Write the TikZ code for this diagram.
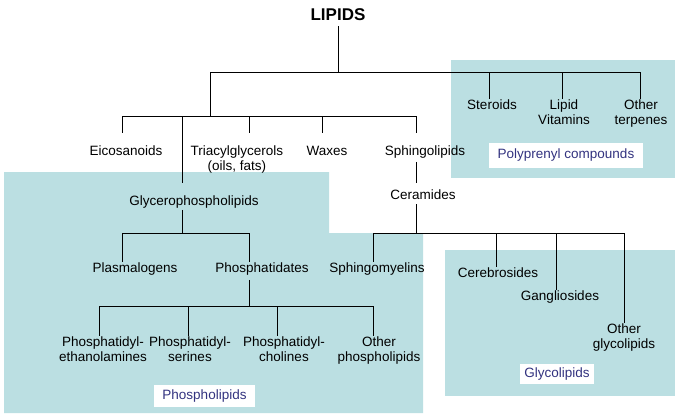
\documentclass[tikz,border=0pt]{standalone}
\usepackage{fontspec}
\setmainfont{Liberation Sans}
\usepackage{tikz}

\definecolor{groupfill}{RGB}{187,223,226}
\definecolor{tagtext}{RGB}{51,51,128}

\tikzset{
    lbl/.style={font=\fontsize{13.5}{15}\selectfont, align=center, inner sep=1pt, anchor=north},
    group/.style={fill=groupfill, draw=none},
    tag/.style={fill=white, text=tagtext, font=\fontsize{13.5}{15}\selectfont, inner sep=0pt},
    link/.style={line width=1pt}
}

\begin{document}
\begin{tikzpicture}[x=1pt, y=-1pt]
    \useasboundingbox (0,0) rectangle (678,416);

    \fill[group] (4,172) -- (329,172) -- (329,233) -- (423,233) -- (423,413) -- (4,413) -- cycle;
    \fill[group] (451,60) rectangle (675,178);
    \fill[group] (445,250) rectangle (675,396);

    \node[tag, minimum width=154pt, minimum height=25pt] (polyprenyl) at (566,155.5) {Polyprenyl compounds};
    \node[tag, minimum width=101pt, minimum height=22pt] (phospholipids) at (204.5,396) {Phospholipids};
    \node[tag, minimum width=74pt, minimum height=20pt] (glycolipids) at (557,374) {Glycolipids};

    \node[font=\fontsize{17}{19}\selectfont\bfseries, inner sep=1pt] (lipids) at (338,15) {LIPIDS};

    \node[lbl] (steroids) at (492,99) {Steroids};
    \node[lbl] (vitamins) at (564,99) {Lipid\\Vitamins};
    \node[lbl] (terpenes) at (641,99) {Other\\terpenes};

    \node[lbl] (eico) at (126,145) {Eicosanoids};
    \node[lbl] (triacyl) at (237,145) {Triacylglycerols\\(oils, fats)};
    \node[lbl] (waxes) at (327,145) {Waxes};
    \node[lbl] (sphingo) at (425,145) {Sphingolipids};

    \node[lbl] (glycero) at (194,195) {Glycerophospholipids};
    \node[lbl] (ceramides) at (423,189) {Ceramides};

    \node[lbl] (plasmalogens) at (135,262) {Plasmalogens};
    \node[lbl] (phosphatidates) at (262,262) {Phosphatidates};
    \node[lbl] (sphingomyelins) at (377,262) {Sphingomyelins};
    \node[lbl] (cerebrosides) at (498,267) {Cerebrosides};
    \node[lbl] (gangliosides) at (560,290) {Gangliosides};
    \node[lbl] (otherglyco) at (624,323) {Other\\glycolipids};

    \node[lbl] (pe) at (103,336) {Phosphatidyl-\\ethanolamines};
    \node[lbl] (ps) at (190,336) {Phosphatidyl-\\serines};
    \node[lbl] (pc) at (284,336) {Phosphatidyl-\\cholines};
    \node[lbl] (otherphospho) at (379,336) {Other\\phospholipids};

    \coordinate (r0) at (338,72);
    \coordinate (r1) at (210,72);
    \coordinate (r2) at (489,72);
    \coordinate (r3) at (562,72);
    \coordinate (r4) at (640,72);
    \coordinate (c0) at (210,116);
    \coordinate (c1) at (122,116);
    \coordinate (c2) at (182,116);
    \coordinate (c3) at (249,116);
    \coordinate (c4) at (322,116);
    \coordinate (c5) at (416,116);
    \coordinate (g0) at (182,233);
    \coordinate (g1) at (122,233);
    \coordinate (g2) at (249,233);
    \coordinate (p0) at (249,306);
    \coordinate (p1) at (99,306);
    \coordinate (p2) at (188,306);
    \coordinate (p3) at (277,306);
    \coordinate (p4) at (373,306);
    \coordinate (s0) at (416,233);
    \coordinate (s1) at (373,233);
    \coordinate (s2) at (496,233);
    \coordinate (s3) at (556,233);
    \coordinate (s4) at (624,233);

    \draw[link, shorten <=4pt] (lipids) -- (r0);
    \draw[link] (r1) -- (r4);
    \draw[link] (r1) -- (c0);
    \draw[link] (r2) -- (r2 |- steroids.north);
    \draw[link] (r3) -- (r3 |- vitamins.north);
    \draw[link] (r4) -- (r4 |- terpenes.north);

    \draw[link] (c1) -- (c5);
    \draw[link, shorten >=12pt] (c1) -- (c1 |- eico.north);
    \draw[link, shorten >=12pt] (c2) -- (c2 |- glycero.north);
    \draw[link, shorten >=12pt] (c3) -- (c3 |- triacyl.north);
    \draw[link, shorten >=12pt] (c4) -- (c4 |- waxes.north);
    \draw[link, shorten >=12pt] (c5) -- (c5 |- sphingo.north);
    \draw[link, shorten <=2pt, shorten >=6pt] (c5 |- sphingo.south) -- (c5 |- ceramides.north);

    \draw[link] (g0 |- glycero.south) -- (g0);
    \draw[link] (g1) -- (g2);
    \draw[link] (g1) -- (g1 |- plasmalogens.north);
    \draw[link] (g2) -- (g2 |- phosphatidates.north);

    \draw[link, shorten <=3pt] (p0 |- phosphatidates.south) -- (p0);
    \draw[link] (p1) -- (p4);
    \draw[link] (p1) -- (p1 |- pe.north);
    \draw[link] (p2) -- (p2 |- ps.north);
    \draw[link] (p3) -- (p3 |- pc.north);
    \draw[link] (p4) -- (p4 |- otherphospho.north);

    \draw[link, shorten <=3pt] (s0 |- ceramides.south) -- (s0);
    \draw[link] (s1) -- (s4);
    \draw[link] (s1) -- (s1 |- sphingomyelins.north);
    \draw[link] (s2) -- (s2 |- cerebrosides.north);
    \draw[link] (s3) -- (s3 |- gangliosides.north);
    \draw[link] (s4) -- (s4 |- otherglyco.north);
\end{tikzpicture}
\end{document}
